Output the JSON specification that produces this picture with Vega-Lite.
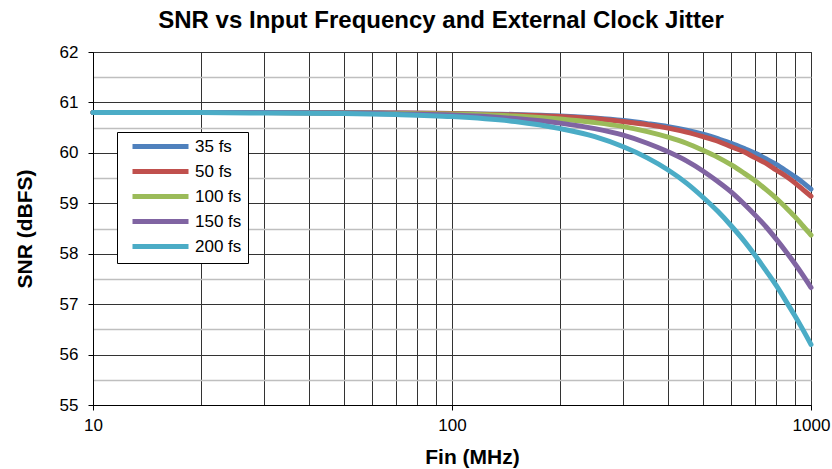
{
  "$schema": "https://vega.github.io/schema/vega-lite/v6.json",
  "width": 718,
  "height": 353,
  "autosize": {"type": "none"},
  "padding": {"left": 93, "top": 52, "right": 21, "bottom": 64},
  "background": "white",
  "config": {
    "font": "Liberation Sans",
    "view": {"stroke": "#404040", "strokeWidth": 1},
    "title": {"fontSize": 24, "fontWeight": "bold", "color": "black", "offset": 10, "anchor": "middle", "dx": -11}
  },
  "title": "SNR vs Input Frequency and External Clock Jitter",
  "data": {
    "values": [
      {"f": 10, "j": "35 fs", "snr": 60.80}, {"f": 20, "j": "35 fs", "snr": 60.80}, {"f": 30, "j": "35 fs", "snr": 60.80}, {"f": 50, "j": "35 fs", "snr": 60.80}, {"f": 70, "j": "35 fs", "snr": 60.79}, {"f": 100, "j": "35 fs", "snr": 60.78}, {"f": 150, "j": "35 fs", "snr": 60.76}, {"f": 200, "j": "35 fs", "snr": 60.73}, {"f": 250, "j": "35 fs", "snr": 60.69}, {"f": 300, "j": "35 fs", "snr": 60.64}, {"f": 350, "j": "35 fs", "snr": 60.58}, {"f": 400, "j": "35 fs", "snr": 60.52}, {"f": 450, "j": "35 fs", "snr": 60.45}, {"f": 500, "j": "35 fs", "snr": 60.37}, {"f": 550, "j": "35 fs", "snr": 60.28}, {"f": 600, "j": "35 fs", "snr": 60.19}, {"f": 650, "j": "35 fs", "snr": 60.09}, {"f": 700, "j": "35 fs", "snr": 59.99}, {"f": 750, "j": "35 fs", "snr": 59.88}, {"f": 800, "j": "35 fs", "snr": 59.77}, {"f": 850, "j": "35 fs", "snr": 59.65}, {"f": 900, "j": "35 fs", "snr": 59.53}, {"f": 950, "j": "35 fs", "snr": 59.41}, {"f": 1000, "j": "35 fs", "snr": 59.28},
      {"f": 10, "j": "50 fs", "snr": 60.80}, {"f": 20, "j": "50 fs", "snr": 60.80}, {"f": 30, "j": "50 fs", "snr": 60.80}, {"f": 50, "j": "50 fs", "snr": 60.79}, {"f": 70, "j": "50 fs", "snr": 60.79}, {"f": 100, "j": "50 fs", "snr": 60.78}, {"f": 150, "j": "50 fs", "snr": 60.75}, {"f": 200, "j": "50 fs", "snr": 60.72}, {"f": 250, "j": "50 fs", "snr": 60.68}, {"f": 300, "j": "50 fs", "snr": 60.62}, {"f": 350, "j": "50 fs", "snr": 60.56}, {"f": 400, "j": "50 fs", "snr": 60.49}, {"f": 450, "j": "50 fs", "snr": 60.41}, {"f": 500, "j": "50 fs", "snr": 60.32}, {"f": 550, "j": "50 fs", "snr": 60.23}, {"f": 600, "j": "50 fs", "snr": 60.12}, {"f": 650, "j": "50 fs", "snr": 60.02}, {"f": 700, "j": "50 fs", "snr": 59.90}, {"f": 750, "j": "50 fs", "snr": 59.79}, {"f": 800, "j": "50 fs", "snr": 59.66}, {"f": 850, "j": "50 fs", "snr": 59.54}, {"f": 900, "j": "50 fs", "snr": 59.41}, {"f": 950, "j": "50 fs", "snr": 59.27}, {"f": 1000, "j": "50 fs", "snr": 59.14},
      {"f": 10, "j": "100 fs", "snr": 60.80}, {"f": 20, "j": "100 fs", "snr": 60.80}, {"f": 30, "j": "100 fs", "snr": 60.80}, {"f": 50, "j": "100 fs", "snr": 60.79}, {"f": 70, "j": "100 fs", "snr": 60.78}, {"f": 100, "j": "100 fs", "snr": 60.77}, {"f": 150, "j": "100 fs", "snr": 60.73}, {"f": 200, "j": "100 fs", "snr": 60.67}, {"f": 250, "j": "100 fs", "snr": 60.60}, {"f": 300, "j": "100 fs", "snr": 60.52}, {"f": 350, "j": "100 fs", "snr": 60.42}, {"f": 400, "j": "100 fs", "snr": 60.31}, {"f": 450, "j": "100 fs", "snr": 60.19}, {"f": 500, "j": "100 fs", "snr": 60.05}, {"f": 550, "j": "100 fs", "snr": 59.91}, {"f": 600, "j": "100 fs", "snr": 59.76}, {"f": 650, "j": "100 fs", "snr": 59.60}, {"f": 700, "j": "100 fs", "snr": 59.44}, {"f": 750, "j": "100 fs", "snr": 59.27}, {"f": 800, "j": "100 fs", "snr": 59.10}, {"f": 850, "j": "100 fs", "snr": 58.92}, {"f": 900, "j": "100 fs", "snr": 58.74}, {"f": 950, "j": "100 fs", "snr": 58.55}, {"f": 1000, "j": "100 fs", "snr": 58.37},
      {"f": 10, "j": "150 fs", "snr": 60.80}, {"f": 20, "j": "150 fs", "snr": 60.80}, {"f": 30, "j": "150 fs", "snr": 60.80}, {"f": 50, "j": "150 fs", "snr": 60.79}, {"f": 70, "j": "150 fs", "snr": 60.77}, {"f": 100, "j": "150 fs", "snr": 60.75}, {"f": 150, "j": "150 fs", "snr": 60.68}, {"f": 200, "j": "150 fs", "snr": 60.59}, {"f": 250, "j": "150 fs", "snr": 60.48}, {"f": 300, "j": "150 fs", "snr": 60.35}, {"f": 350, "j": "150 fs", "snr": 60.19}, {"f": 400, "j": "150 fs", "snr": 60.02}, {"f": 450, "j": "150 fs", "snr": 59.84}, {"f": 500, "j": "150 fs", "snr": 59.64}, {"f": 550, "j": "150 fs", "snr": 59.43}, {"f": 600, "j": "150 fs", "snr": 59.22}, {"f": 650, "j": "150 fs", "snr": 58.99}, {"f": 700, "j": "150 fs", "snr": 58.76}, {"f": 750, "j": "150 fs", "snr": 58.53}, {"f": 800, "j": "150 fs", "snr": 58.29}, {"f": 850, "j": "150 fs", "snr": 58.05}, {"f": 900, "j": "150 fs", "snr": 57.81}, {"f": 950, "j": "150 fs", "snr": 57.57}, {"f": 1000, "j": "150 fs", "snr": 57.33},
      {"f": 10, "j": "200 fs", "snr": 60.80}, {"f": 20, "j": "200 fs", "snr": 60.80}, {"f": 30, "j": "200 fs", "snr": 60.79}, {"f": 50, "j": "200 fs", "snr": 60.78}, {"f": 70, "j": "200 fs", "snr": 60.76}, {"f": 100, "j": "200 fs", "snr": 60.72}, {"f": 150, "j": "200 fs", "snr": 60.62}, {"f": 200, "j": "200 fs", "snr": 60.48}, {"f": 250, "j": "200 fs", "snr": 60.32}, {"f": 300, "j": "200 fs", "snr": 60.12}, {"f": 350, "j": "200 fs", "snr": 59.90}, {"f": 400, "j": "200 fs", "snr": 59.66}, {"f": 450, "j": "200 fs", "snr": 59.40}, {"f": 500, "j": "200 fs", "snr": 59.12}, {"f": 550, "j": "200 fs", "snr": 58.84}, {"f": 600, "j": "200 fs", "snr": 58.55}, {"f": 650, "j": "200 fs", "snr": 58.26}, {"f": 700, "j": "200 fs", "snr": 57.96}, {"f": 750, "j": "200 fs", "snr": 57.66}, {"f": 800, "j": "200 fs", "snr": 57.37}, {"f": 850, "j": "200 fs", "snr": 57.07}, {"f": 900, "j": "200 fs", "snr": 56.78}, {"f": 950, "j": "200 fs", "snr": 56.49}, {"f": 1000, "j": "200 fs", "snr": 56.20}
    ]
  },
  "mark": {"type": "line", "strokeWidth": 5, "interpolate": "monotone", "strokeCap": "round", "clip": false},
  "encoding": {
    "x": {
      "field": "f", "type": "quantitative",
      "scale": {"type": "log", "domain": [10, 1000], "nice": false},
      "axis": {
        "title": "Fin (MHz)",
        "titleFontSize": 21, "titleFontWeight": "bold", "titleColor": "black", "titlePadding": 13, "titleX": 379,
        "values": [10, 20, 30, 40, 50, 60, 70, 80, 90, 100, 200, 300, 400, 500, 600, 700, 800, 900, 1000],
        "labelExpr": "(datum.value == 10 || datum.value == 100 || datum.value == 1000) ? format(datum.value, 'd') : ''",
        "labelFontSize": 17, "labelColor": "black", "labelPadding": 7, "labelFlush": false, "labelOverlap": false,
        "domainColor": "black", "domainWidth": 1,
        "tickColor": "black", "tickSize": 5,
        "tickOpacity": {"condition": {"test": "datum.value == 10 || datum.value == 100 || datum.value == 1000", "value": 1}, "value": 0},
        "grid": true, "gridColor": "#333333", "gridWidth": 1, "gridOpacity": 1
      }
    },
    "y": {
      "field": "snr", "type": "quantitative",
      "scale": {"domain": [55, 62], "nice": false, "zero": false},
      "axis": {
        "title": "SNR (dBFS)",
        "titleFontSize": 21, "titleFontWeight": "bold", "titleColor": "black", "titlePadding": 24,
        "values": [55, 55.5, 56, 56.5, 57, 57.5, 58, 58.5, 59, 59.5, 60, 60.5, 61, 61.5, 62],
        "labelExpr": "datum.value % 1 == 0 ? format(datum.value, 'd') : ''",
        "labelFontSize": 17, "labelColor": "black", "labelPadding": 10, "labelOverlap": false,
        "domainColor": "black", "domainWidth": 1,
        "tickColor": "black", "tickSize": 5,
        "tickOpacity": {"condition": {"test": "datum.value % 1 == 0", "value": 1}, "value": 0},
        "grid": true,
        "gridColor": {"condition": {"test": "datum.value % 1 == 0", "value": "#333333"}, "value": "#bfbfbf"},
        "gridWidth": {"condition": {"test": "datum.value % 1 == 0", "value": 1}, "value": 1.5},
        "gridOpacity": 1
      }
    },
    "color": {
      "field": "j", "type": "nominal",
      "scale": {"domain": ["35 fs", "50 fs", "100 fs", "150 fs", "200 fs"], "range": ["#4F81BD", "#C0504D", "#9BBB59", "#8064A2", "#4BACC6"]},
      "legend": {
        "title": null, "orient": "none", "legendX": 24, "legendY": 80,
        "strokeColor": "black", "fillColor": "white", "padding": 6,
        "symbolType": "M-7,0L7,0", "symbolSize": 64, "symbolStrokeWidth": 5, "symbolOffset": 29,
        "labelFontSize": 17, "labelColor": "black", "labelOffset": 26, "rowPadding": 4
      }
    }
  }
}
